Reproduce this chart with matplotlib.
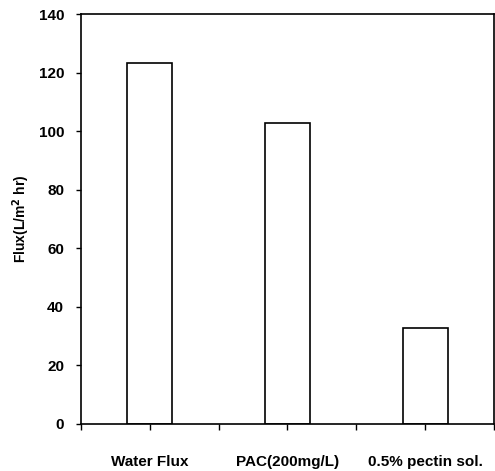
import matplotlib
matplotlib.use("Agg")
import matplotlib.pyplot as plt

plt.rcParams["font.family"] = ["Liberation Sans", "DejaVu Sans"]
plt.rcParams["font.weight"] = "bold"

categories = ["Water Flux", "PAC(200mg/L)", "0.5% pectin sol."]
flux = [123.2, 102.7, 32.9]
positions = [1, 3, 5]

fig = plt.figure(figsize=(4.95, 4.71), dpi=100)
ax = fig.add_axes([0.1636, 0.0998, 0.8344, 0.8704])

ax.bar(positions, flux, width=0.65, color="white", edgecolor="black", linewidth=1.2)

ax.set_xlim(0, 6)
ax.set_ylim(0, 140)
ax.set_yticks(range(0, 141, 20))
ax.set_xticks(range(0, 7))
ax.set_xticklabels(["", categories[0], "", categories[1], "", categories[2], ""])
ax.tick_params(axis="x", direction="out", length=4.3, width=1, pad=18, labelsize=11)
ax.tick_params(axis="y", direction="out", length=3.6, width=1, pad=8.5, labelsize=11)
for s in ax.spines.values():
    s.set_linewidth(1.2)

ax.set_ylabel("Flux(L/m$^2$ hr)", fontsize=10, fontweight="bold", labelpad=5)

fig.savefig("out.png", dpi=100)
